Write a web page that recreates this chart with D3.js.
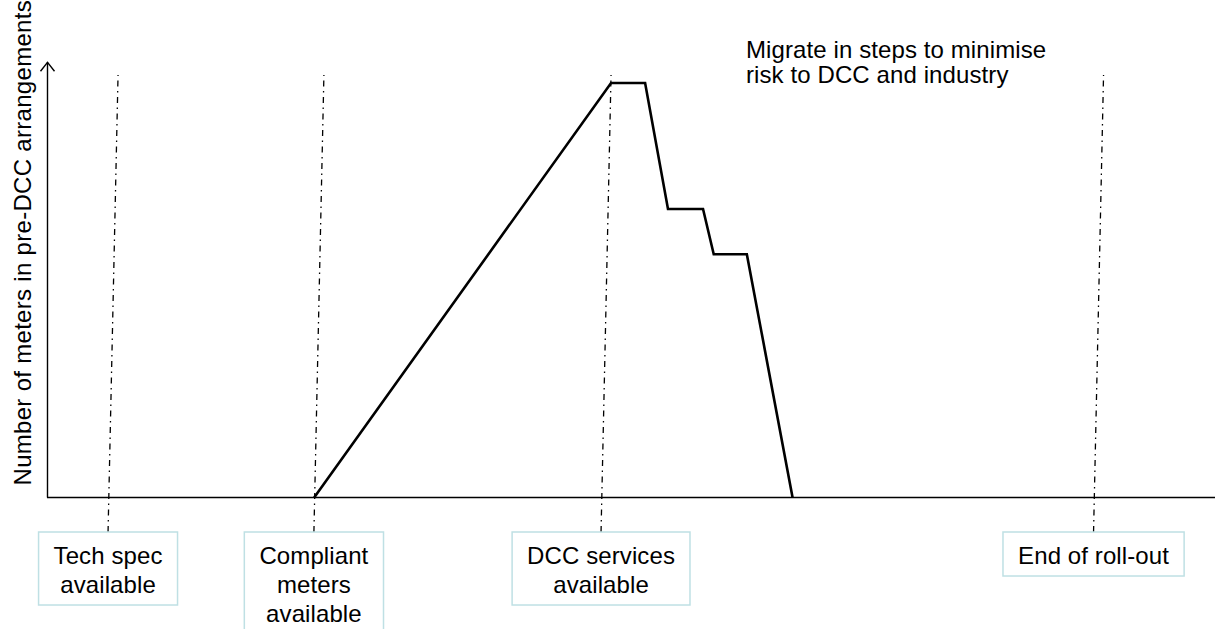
<!DOCTYPE html>
<html>
<head>
<meta charset="utf-8">
<script src="https://cdn.jsdelivr.net/npm/d3@7"></script>
<style>
  html, body { margin: 0; padding: 0; background: #fff; }
  svg { display: block; font-family: "Liberation Sans", Arial, sans-serif; }
</style>
</head>
<body>
<svg id="chart" width="1225" height="629"></svg>
<script>
// ---- data ----
// milestones on the time axis (arbitrary time units)
const milestoneNames = [
  ["Tech spec", "available"],
  ["Compliant", "meters", "available"],
  ["DCC services", "available"],
  ["End of roll-out"]
];
const milestoneTimes = [6.35, 27.5, 57.0, 107.6];

// number of meters in pre-DCC arrangements (index, peak = 100)
const seriesTimes  = [27.45, 57.95, 61.45, 63.8, 67.4, 68.5, 71.9, 76.6];
const seriesValues = [0, 100, 100, 69.6, 69.6, 58.7, 58.7, 0];

const yAxisTitle = "Number of meters in pre-DCC arrangements";
const noteLines = ["Migrate in steps to minimise", "risk to DCC and industry"];

// ---- layout ----
const svg = d3.select("#chart");
const x0 = 47, x1 = 1215, yBase = 497.5;
const x = d3.scaleLinear().domain([0, 120]).range([x0, x1]);
const y = d3.scaleLinear().domain([0, 100]).range([yBase, 83]);
const yTop = y(105);
const fontSize = 24;
const slant = 10 / 457; // slight lean of the milestone guide lines

// x axis line
svg.append("line")
  .attr("x1", x0).attr("x2", x1).attr("y1", yBase).attr("y2", yBase)
  .attr("stroke", "#000").attr("stroke-width", 1.4);

// y axis line with open arrowhead
svg.append("line")
  .attr("x1", x0 + 0.5).attr("x2", x0 + 0.5).attr("y1", yBase).attr("y2", yTop)
  .attr("stroke", "#000").attr("stroke-width", 1.4);
svg.append("path")
  .attr("d", `M${x0 + 0.5 - 7},${yTop + 9} L${x0 + 0.5},${yTop} L${x0 + 0.5 + 7},${yTop + 9}`)
  .attr("fill", "none").attr("stroke", "#000").attr("stroke-width", 1.4);

// y axis title
svg.append("text")
  .attr("transform", `translate(31,${yBase - 12}) rotate(-90)`)
  .attr("font-size", fontSize)
  .attr("letter-spacing", 0.3)
  .attr("fill", "#000")
  .text(yAxisTitle);

// milestone guides and boxes
const boxTop = 532;
const lineGap = 29;
const guideTopY = 75;
milestoneTimes.forEach((t, i) => {
  const xa = x(t);
  const xb = xa + (boxTop - yBase) * -slant;   // at box top
  const xt = xa + (yBase - guideTopY) * slant; // at top
  svg.append("line")
    .attr("x1", xb).attr("y1", boxTop)
    .attr("x2", xt).attr("y2", guideTopY)
    .attr("stroke", "#000").attr("stroke-width", 1.3)
    .attr("stroke-dasharray", "6,4.5,1.5,4.5");

  const g = svg.append("g");
  const lines = milestoneNames[i];
  const txt = g.append("text")
    .attr("font-size", fontSize)
    .attr("letter-spacing", 0.1)
    .attr("fill", "#000")
    .attr("text-anchor", "middle");
  lines.forEach((ln, j) => {
    txt.append("tspan")
      .attr("x", xb)
      .attr("y", boxTop + 32 + j * lineGap)
      .text(ln);
  });
  const bb = txt.node().getBBox();
  const w = bb.width + 30;
  const h = 32 + (lines.length - 1) * lineGap + 12;
  g.insert("rect", "text")
    .attr("x", xb - w / 2).attr("y", boxTop)
    .attr("width", w).attr("height", h)
    .attr("fill", "#fff")
    .attr("stroke", "#bfe0e4").attr("stroke-width", 1.5);
});

// main series line
const line = d3.line()
  .x((d, i) => x(seriesTimes[i]))
  .y(d => y(d));
svg.append("path")
  .datum(seriesValues)
  .attr("d", line)
  .attr("fill", "none")
  .attr("stroke", "#000")
  .attr("stroke-width", 2.6)
  .attr("stroke-linejoin", "miter");

// annotation
const note = svg.append("text")
  .attr("font-size", fontSize)
  .attr("letter-spacing", 0.1)
  .attr("fill", "#000");
noteLines.forEach((ln, j) => {
  note.append("tspan").attr("x", 746).attr("y", 58 + j * 24.6).text(ln);
});
</script>
</body>
</html>
